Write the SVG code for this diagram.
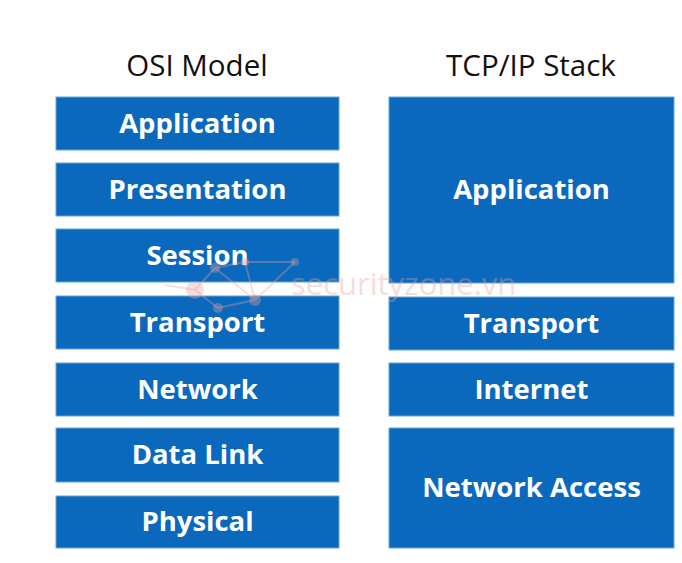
<svg xmlns="http://www.w3.org/2000/svg" width="682" height="563" viewBox="0 0 682 563">
<style>
.box{fill:#0a69bd;stroke:#6aa3d8;stroke-width:1}
.lbl{font-family:"Open Sans","Liberation Sans",sans-serif;font-weight:bold;font-size:27.5px;fill:#ffffff;text-anchor:middle}
.hdr{font-family:"Open Sans","Liberation Sans",sans-serif;font-size:29.5px;fill:#111111;text-anchor:middle}
.wm{font-family:"Open Sans","Liberation Sans",sans-serif;font-size:31px;fill:#e8a0a0;opacity:0.35}
.wml{stroke:#e8a0a0;stroke-width:2;opacity:0.35;fill:none}
.wmc{fill:#e8a0a0;opacity:0.35}
</style>
<rect width="682" height="563" fill="#ffffff"/>
<text class="hdr" x="197" y="76">OSI Model</text>
<text class="hdr" x="531" y="76">TCP/IP Stack</text>
<g id="osi-application"><rect class="box" x="56" y="97" width="283" height="53"/><text class="lbl" x="197.5" y="133">Application</text></g>
<g id="osi-presentation"><rect class="box" x="56" y="163" width="283" height="53"/><text class="lbl" x="197.5" y="199">Presentation</text></g>
<g id="osi-session"><rect class="box" x="56" y="229" width="283" height="53"/><text class="lbl" x="197.5" y="265">Session</text></g>
<g id="osi-transport"><rect class="box" x="56" y="296" width="283" height="53"/><text class="lbl" x="197.5" y="332">Transport</text></g>
<g id="osi-network"><rect class="box" x="56" y="363" width="283" height="53"/><text class="lbl" x="197.5" y="399">Network</text></g>
<g id="osi-datalink"><rect class="box" x="56" y="428" width="283" height="54"/><text class="lbl" x="197.5" y="464">Data Link</text></g>
<g id="osi-physical"><rect class="box" x="56" y="496" width="283" height="52"/><text class="lbl" x="197.5" y="531">Physical</text></g>
<g id="tcp-application"><rect class="box" x="389" y="97" width="285" height="186"/><text class="lbl" x="531.5" y="199">Application</text></g>
<g id="tcp-transport"><rect class="box" x="389" y="297" width="285" height="53"/><text class="lbl" x="531.5" y="333">Transport</text></g>
<g id="tcp-internet"><rect class="box" x="389" y="363" width="285" height="53"/><text class="lbl" x="531.5" y="399">Internet</text></g>
<g id="tcp-networkaccess"><rect class="box" x="389" y="428" width="285" height="120"/><text class="lbl" x="531.5" y="497">Network Access</text></g>
<g id="watermark">
<path class="wml" d="M165 285 L195 290 L215 268 L245 262 L295 262 M195 290 L218 308 L255 300 L295 262 M215 268 L255 300 M245 262 L255 300"/>
<circle class="wmc" cx="195" cy="290" r="9"/>
<circle class="wmc" cx="215" cy="268" r="5"/>
<circle class="wmc" cx="245" cy="262" r="4"/>
<circle class="wmc" cx="255" cy="300" r="6"/>
<circle class="wmc" cx="218" cy="308" r="5"/>
<circle class="wmc" cx="295" cy="262" r="4"/>
<text class="wm" x="291" y="295">securityzone.vn</text>
</g>
</svg>
